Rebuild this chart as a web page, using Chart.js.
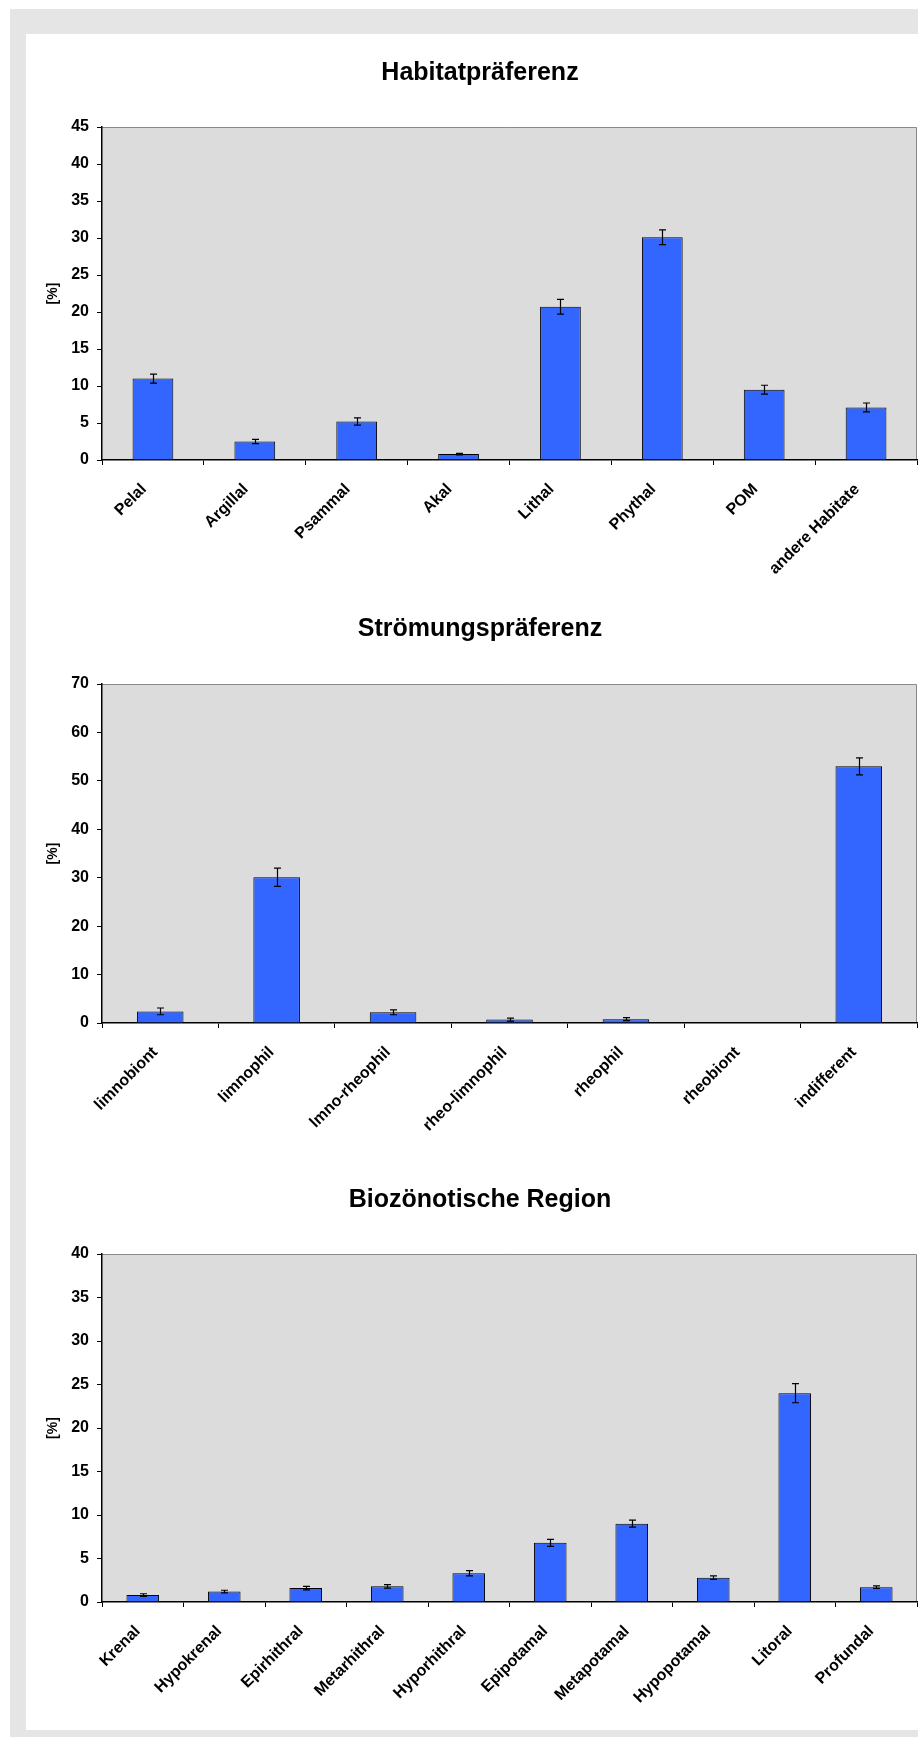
<!DOCTYPE html>
<html lang="de">
<head>
<meta charset="utf-8">
<title>Habitat-, Strömungspräferenz und Biozönotische Region</title>
<script src="https://cdn.jsdelivr.net/npm/chart.js@4.4.1/dist/chart.umd.min.js"></script>
<style>
  html, body { margin: 0; padding: 0; background: #ffffff; }
  body { width: 918px; height: 1737px; position: relative; overflow: hidden; }
  #frame { position: absolute; left: 10px; top: 9px; width: 908px; height: 1728px; background: #e5e5e5; }
  #panel { position: absolute; left: 26px; top: 34px; width: 892px; height: 1696px; background: #ffffff; }
  canvas { position: absolute; left: 26px; display: block; }
</style>
</head>
<body>
<div id="frame"></div>
<div id="panel"></div>
<canvas id="habitat" width="892" height="546" style="top:34px"></canvas>
<canvas id="stroemung" width="892" height="570" style="top:580px"></canvas>
<canvas id="region" width="892" height="580" style="top:1150px"></canvas>
<script>
// Habitatpräferenz
const habitatLabels = ['Pelal', 'Argillal', 'Psammal', 'Akal', 'Lithal', 'Phythal', 'POM', 'andere Habitate'];
const habitatValues = [11.0, 2.5, 5.2, 0.8, 20.7, 30.1, 9.5, 7.1];
const habitatErrors = [0.6, 0.3, 0.5, 0.1, 1.0, 1.0, 0.6, 0.6];
const habitatTicks = { max: 45, step: 5 };

// Strömungspräferenz
const stroemungLabels = ['limnobiont', 'limnophil', 'lmno-rheophil', 'rheo-limnophil', 'rheophil', 'rheobiont', 'indifferent'];
const stroemungValues = [2.4, 30.1, 2.2, 0.7, 0.8, 0, 53.0];
const stroemungErrors = [0.7, 1.9, 0.5, 0.3, 0.3, 0, 1.75];
const stroemungTicks = { max: 70, step: 10 };

// Biozönotische Region
const regionLabels = ['Krenal', 'Hypokrenal', 'Epirhithral', 'Metarhithral', 'Hyporhithral', 'Epipotamal', 'Metapotamal', 'Hypopotamal', 'Litoral', 'Profundal'];
const regionValues = [0.8, 1.2, 1.6, 1.8, 3.3, 6.8, 9.0, 2.8, 24.0, 1.7];
const regionErrors = [0.15, 0.15, 0.2, 0.2, 0.3, 0.4, 0.4, 0.2, 1.1, 0.15];
const regionTicks = { max: 40, step: 5 };

const FONT = "'Liberation Sans', Arial, Helvetica, sans-serif";

// grey plot area with a thin grey frame behind the bars
const plotBackground = {
  id: 'plotBackground',
  beforeDraw(chart) {
    const a = chart.chartArea;
    const ctx = chart.ctx;
    ctx.save();
    ctx.fillStyle = '#dcdcdc';
    ctx.fillRect(a.left, a.top, a.right - a.left, a.bottom - a.top);
    ctx.strokeStyle = '#8a8a8a';
    ctx.lineWidth = 1;
    ctx.beginPath();
    ctx.moveTo(a.left, a.top + 0.5);
    ctx.lineTo(a.right - 0.5, a.top + 0.5);
    ctx.lineTo(a.right - 0.5, a.bottom);
    ctx.stroke();
    ctx.restore();
  }
};

// error bars (value ± error) drawn through the y scale
const errorBars = {
  id: 'errorBars',
  afterDatasetsDraw(chart) {
    const ctx = chart.ctx;
    const y = chart.scales.y;
    chart.data.datasets.forEach((ds, di) => {
      const meta = chart.getDatasetMeta(di);
      const errs = ds.errors || [];
      meta.data.forEach((el, i) => {
        const e = errs[i];
        if (!e) return;
        const v = ds.data[i];
        const yHi = y.getPixelForValue(v + e);
        const yLo = y.getPixelForValue(Math.max(v - e, 0));
        const x = Math.round(el.x) + 0.5;
        const cap = 3.5;
        ctx.save();
        ctx.strokeStyle = '#000000';
        ctx.lineWidth = 1.2;
        ctx.beginPath();
        ctx.moveTo(x, yHi);
        ctx.lineTo(x, yLo);
        ctx.moveTo(x - cap, yHi);
        ctx.lineTo(x + cap, yHi);
        ctx.moveTo(x - cap, yLo);
        ctx.lineTo(x + cap, yLo);
        ctx.stroke();
        ctx.restore();
      });
    });
  }
};

function makeChart(id, title, labels, values, errors, ticks, layout) {
  return new Chart(document.getElementById(id), {
    type: 'bar',
    data: {
      labels: labels,
      datasets: [{
        data: values,
        errors: errors,
        backgroundColor: '#3366ff',
        borderColor: '#000000',
        borderWidth: 1,
        borderSkipped: 'start',
        categoryPercentage: 1.0,
        barPercentage: 0.4
      }]
    },
    options: {
      responsive: false,
      animation: false,
      devicePixelRatio: 1,
      layout: { padding: { left: 17, right: 1, top: 0, bottom: 0 } },
      plugins: {
        legend: { display: false },
        tooltip: { enabled: false },
        title: {
          display: true,
          text: title,
          color: '#000000',
          font: { family: FONT, size: 25, weight: 'bold' },
          padding: { top: layout.titleTop, bottom: layout.titleBottom }
        }
      },
      scales: {
        x: {
          grid: {
            display: true,
            drawOnChartArea: false,
            drawTicks: true,
            tickLength: 5,
            tickWidth: 1,
            tickColor: '#000000',
            offset: true
          },
          border: { display: true, color: '#000000', width: 1.5 },
          ticks: {
            autoSkip: false,
            minRotation: 45,
            maxRotation: 45,
            padding: 15,
            labelOffset: layout.labelShift,
            color: '#000000',
            font: { family: FONT, size: 16, weight: 'bold' }
          },
          afterFit(s) { s.height = layout.xHeight; }
        },
        y: {
          min: 0,
          max: ticks.max,
          grid: {
            display: true,
            drawOnChartArea: false,
            drawTicks: true,
            tickLength: 5,
            tickColor: '#000000'
          },
          border: { display: true, color: '#000000', width: 1.5 },
          ticks: {
            stepSize: ticks.step,
            padding: 8,
            color: '#000000',
            font: { family: FONT, size: 16, weight: 'bold' }
          },
          title: {
            display: true,
            text: '[%]',
            color: '#000000',
            font: { family: FONT, size: 14, weight: 'bold' },
            padding: { top: 2, bottom: 4 }
          },
          afterFit(s) { s.width = 59; }
        }
      }
    },
    plugins: [plotBackground, errorBars]
  });
}

makeChart('habitat', 'Habitatpräferenz', habitatLabels, habitatValues, habitatErrors, habitatTicks,
  { titleTop: 24, titleBottom: 39, xHeight: 120, labelShift: -9 });
makeChart('stroemung', 'Strömungspräferenz', stroemungLabels, stroemungValues, stroemungErrors, stroemungTicks,
  { titleTop: 34, titleBottom: 40, xHeight: 127, labelShift: -5 });
makeChart('region', 'Biozönotische Region', regionLabels, regionValues, regionErrors, regionTicks,
  { titleTop: 35, titleBottom: 39, xHeight: 128, labelShift: -5 });
</script>
</body>
</html>
